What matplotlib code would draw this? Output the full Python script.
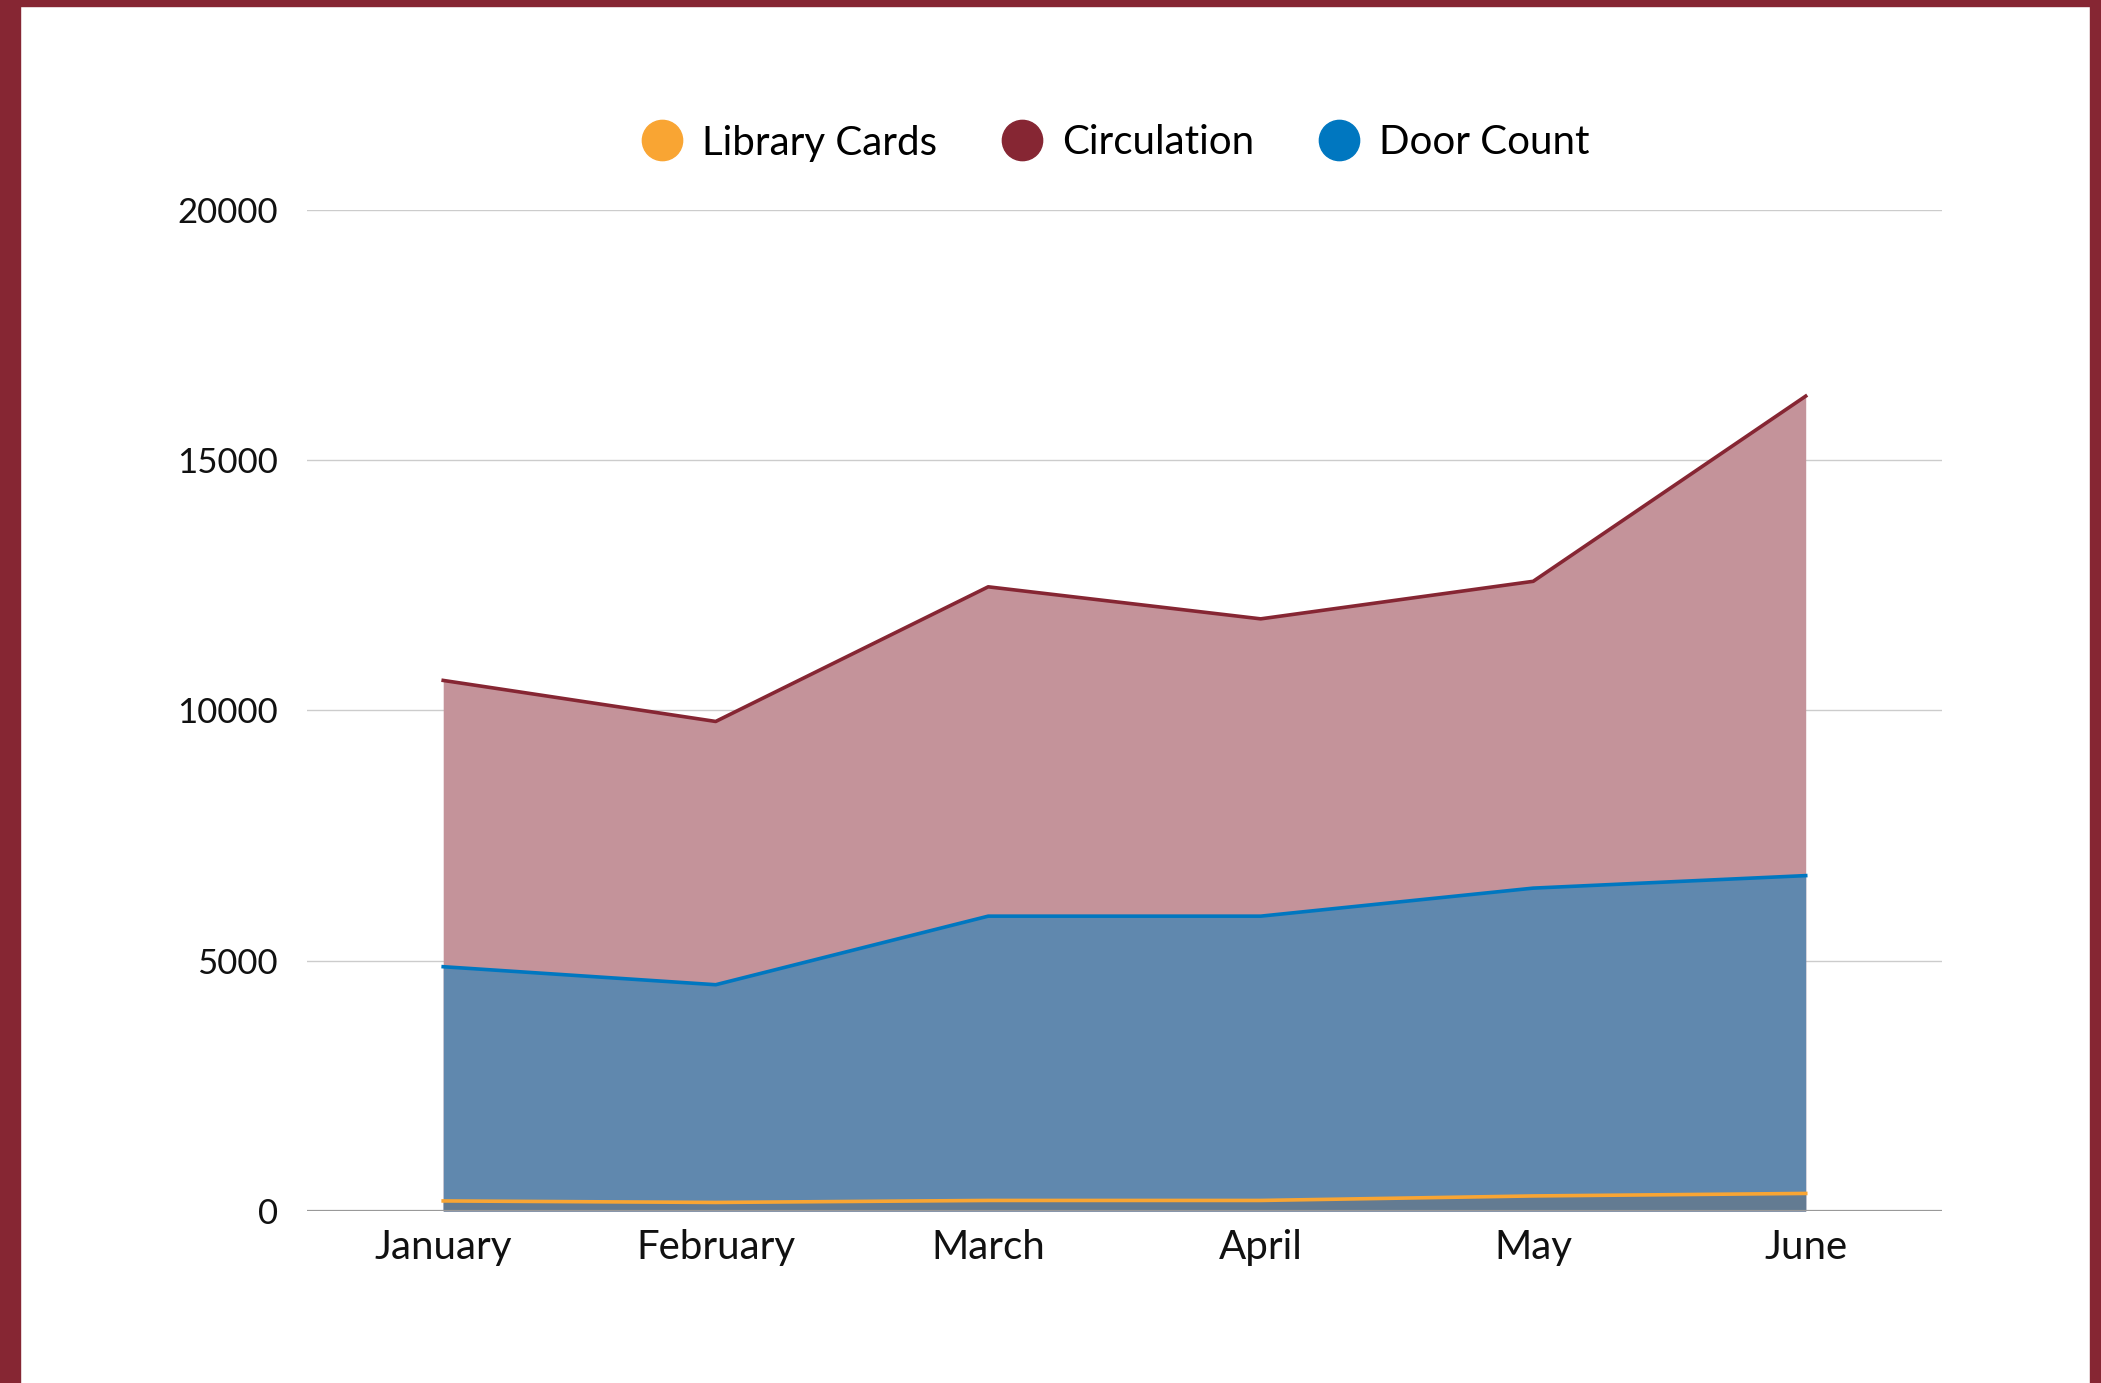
import matplotlib
matplotlib.use("Agg")
import matplotlib.pyplot as plt
from matplotlib.lines import Line2D
from matplotlib.patches import Rectangle

months = ["January", "February", "March", "April", "May", "June"]
library_cards = [200, 170, 210, 210, 300, 350]
circulation = [10600, 9780, 12470, 11830, 12580, 16280]
door_count = [4880, 4520, 5890, 5890, 6450, 6700]
y_ticks = [0, 5000, 10000, 15000, 20000]

c_cards = "#f9a533"
c_circ = "#862633"
c_door = "#0077c0"

plt.rcParams['font.family'] = ['Lato', 'DejaVu Sans']

fig = plt.figure(figsize=(21.01, 13.83), dpi=100)
fig.patch.set_facecolor("white")

ax = fig.add_axes([0.1461, 0.1244, 0.9243 - 0.1461, 0.8482 - 0.1244])
x = list(range(len(months)))

ax.fill_between(x, 0, circulation, color="#c4939a", lw=0, zorder=1)
ax.fill_between(x, 0, door_count, color="#6088ae", lw=0, zorder=2)
ax.fill_between(x, 0, library_cards, color="#637b92", lw=0, zorder=3)
ax.plot(x, circulation, color=c_circ, lw=2.6, zorder=4, solid_joinstyle="round")
ax.plot(x, door_count, color=c_door, lw=2.6, zorder=4, solid_joinstyle="round")
ax.plot(x, library_cards, color=c_cards, lw=2.6, zorder=4, solid_joinstyle="round")

ax.set_xlim(-0.5, len(months) - 0.5)
ax.set_ylim(0, 20000)
ax.set_xticks(x)
ax.set_xticklabels(months, fontsize=29)
ax.set_yticks(y_ticks)
ax.set_yticklabels([str(v) for v in y_ticks], fontsize=25)
ax.tick_params(axis="both", length=0, colors="#111111")
ax.tick_params(axis="y", pad=21)
ax.tick_params(axis="x", pad=13)
for s in ax.spines.values():
    s.set_visible(False)
ax.grid(axis="y", color="#cccccc", lw=1, zorder=0)
ax.set_axisbelow(True)
ax.axhline(0, color="#999999", lw=1.6, zorder=5)

handles = [Line2D([], [], marker="o", ls="none", markersize=29, markerfacecolor=c, markeredgecolor=c)
           for c in (c_cards, c_circ, c_door)]
fig.legend(handles, ["Library Cards", "Circulation", "Door Count"], loc="center",
           bbox_to_anchor=(0.531, 1 - 143 / 1383), ncol=3, frameon=False, fontsize=29,
           handletextpad=0.5, columnspacing=1.6, handlelength=1.0)

# border frame
fig.patches.append(Rectangle((0, 0), 20 / 2101, 1, transform=fig.transFigure, color=c_circ, zorder=10))
fig.patches.append(Rectangle((2090 / 2101, 0), 11 / 2101, 1, transform=fig.transFigure, color=c_circ, zorder=10))
fig.patches.append(Rectangle((0, 1 - 6 / 1383), 1, 6 / 1383, transform=fig.transFigure, color=c_circ, zorder=10))

fig.savefig("out.png", dpi=100)
